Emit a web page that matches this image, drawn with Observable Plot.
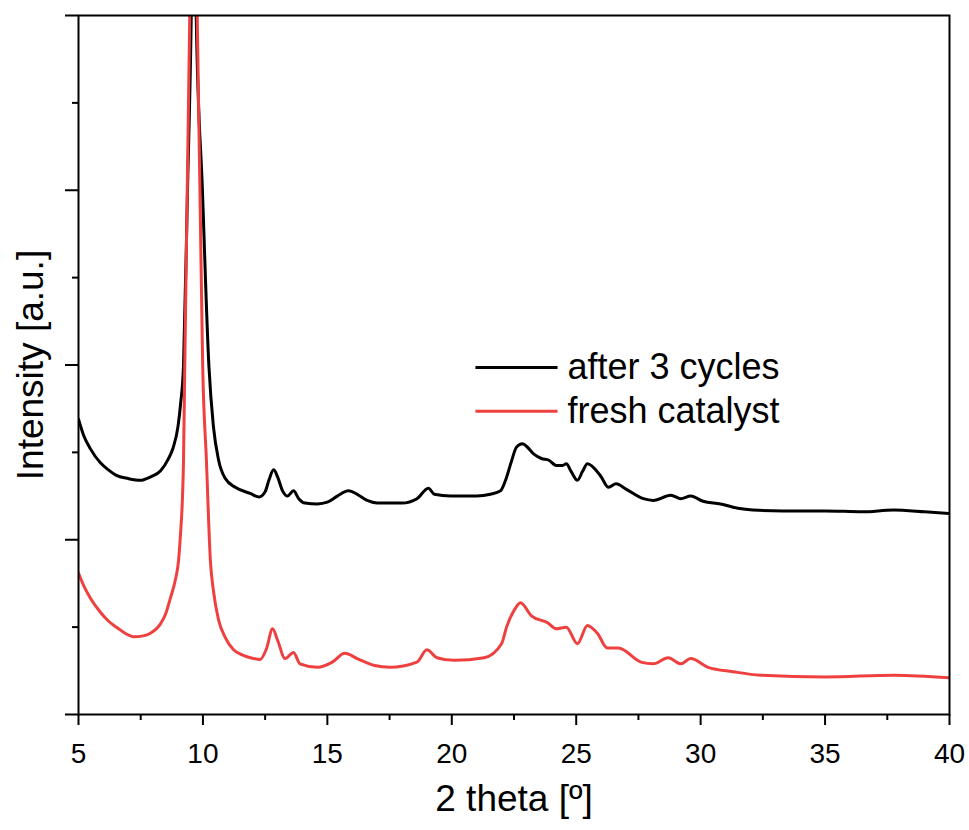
<!DOCTYPE html>
<html>
<head>
<meta charset="utf-8">
<script src="https://cdn.jsdelivr.net/npm/d3@7"></script>
<script src="https://cdn.jsdelivr.net/npm/@observablehq/plot@0.6"></script>
<style>
  html, body { margin: 0; padding: 0; background: #fff; }
  #chart { width: 969px; height: 830px; }
</style>
</head>
<body>
<div id="chart"></div>
<script>
// 2 theta [deg] vs intensity [a.u.]
const after3 = [
  [5.0, 3.38], [5.2, 3.2], [5.48, 3.04], [5.88, 2.88], [6.2, 2.8], [6.5, 2.74], [7.0, 2.70], [7.49, 2.68],
  [7.9, 2.72], [8.3, 2.79], [8.6, 2.92], [8.8, 3.05], [9.0, 3.3], [9.1, 3.55], [9.22, 4.0],
  [9.38, 6.0], [9.53, 8.0], [9.63, 10.5], [9.73, 8.0], [9.98, 6.0], [10.24, 3.99], [10.42, 3.3],
  [10.63, 2.91], [10.9, 2.7], [11.3, 2.6], [11.9, 2.53], [12.25, 2.49], [12.5, 2.55], [12.65, 2.68],
  [12.84, 2.80], [13.0, 2.72], [13.2, 2.56], [13.4, 2.50], [13.64, 2.56], [13.85, 2.47], [14.1, 2.42],
  [14.6, 2.41], [15.0, 2.43], [15.4, 2.50], [15.85, 2.56], [16.2, 2.52], [16.6, 2.45], [17.0, 2.42],
  [17.4, 2.42], [18.0, 2.42], [18.6, 2.47], [19.06, 2.59], [19.3, 2.52], [19.95, 2.50], [20.5, 2.50],
  [21.0, 2.50], [21.55, 2.52], [21.96, 2.56], [22.16, 2.68], [22.4, 2.90], [22.6, 3.06], [22.84, 3.10],
  [23.0, 3.07], [23.3, 2.98], [23.6, 2.93], [23.9, 2.91], [24.2, 2.85], [24.45, 2.85], [24.6, 2.87],
  [24.8, 2.78], [25.05, 2.68], [25.25, 2.78], [25.45, 2.87], [25.98, 2.73], [26.3, 2.60], [26.6, 2.64],
  [27.0, 2.58], [27.7, 2.47], [28.1, 2.45], [28.8, 2.51], [29.2, 2.47], [29.6, 2.50], [30.1, 2.44],
  [30.8, 2.41], [31.5, 2.36], [32.1, 2.34], [33.3, 2.33], [35.0, 2.33], [36.5, 2.32], [37.75, 2.34],
  [39.0, 2.32], [40.0, 2.30]
];
const fresh = [
  [5.0, 1.62], [5.2, 1.48], [5.48, 1.33], [5.88, 1.17], [6.2, 1.07], [6.57, 0.99], [7.0, 0.91], [7.21, 0.89],
  [7.6, 0.9], [7.89, 0.93], [8.3, 1.04], [8.5, 1.15], [8.7, 1.34], [8.9, 1.55], [9.02, 1.76], [9.1, 2.07],
  [9.18, 2.5], [9.22, 2.91], [9.27, 3.99], [9.37, 6.0], [9.47, 8.0], [9.62, 11.5], [9.77, 8.0], [9.88, 6.0],
  [9.99, 3.99], [10.14, 2.91], [10.3, 1.76], [10.42, 1.42], [10.63, 1.08], [10.9, 0.88], [11.23, 0.74],
  [11.6, 0.68], [11.91, 0.65], [12.3, 0.63], [12.55, 0.75], [12.8, 0.98], [13.0, 0.85], [13.3, 0.64],
  [13.64, 0.71], [13.9, 0.58], [14.6, 0.54], [15.2, 0.6], [15.7, 0.70], [16.2, 0.64], [16.9, 0.56],
  [17.5, 0.54], [18.6, 0.60], [19.0, 0.74], [19.4, 0.65], [20.1, 0.62], [21.3, 0.65], [22.0, 0.81],
  [22.2, 1.0], [22.5, 1.19], [22.76, 1.28], [23.2, 1.13], [23.85, 1.05], [24.2, 0.98], [24.6, 1.0],
  [25.05, 0.81], [25.45, 1.02], [25.85, 0.93], [26.25, 0.76], [26.7, 0.76], [27.6, 0.60], [28.1, 0.58],
  [28.7, 0.65], [29.2, 0.58], [29.6, 0.64], [30.3, 0.54], [31.3, 0.49], [32.4, 0.45], [35.0, 0.43],
  [37.8, 0.45], [40.0, 0.42]
];
const seriesNames = ["after 3 cycles", "fresh catalyst"];
const seriesColors = ["#000000", "#ef4040"];
const xMajorTicks = [5, 10, 15, 20, 25, 30, 35, 40];
const xMinorTicks = [7.5, 12.5, 17.5, 22.5, 27.5, 32.5, 37.5];
const yMajorTicks = [0, 2, 4, 6, 8];
const yMinorTicks = [1, 3, 5, 7];
const xLabel = "2 theta [º]";
const yLabel = "Intensity [a.u.]";

const font = "'Liberation Sans', Arial, sans-serif";
const legendRows = seriesNames.map((name, i) => ({name, color: seriesColors[i], y: 3.97 - i * 0.5}));

const plot = Plot.plot({
  width: 969,
  height: 830,
  marginLeft: 78,
  marginRight: 20,
  marginTop: 15,
  marginBottom: 116,
  style: {fontFamily: font, background: "white", color: "black"},
  x: {domain: [5, 40]},
  y: {domain: [0, 8]},
  marks: [
    Plot.line(after3, {x: d => d[0], y: d => d[1], stroke: seriesColors[0], strokeWidth: 3, curve: "monotone-x", clip: true}),
    Plot.line(fresh, {x: d => d[0], y: d => d[1], stroke: seriesColors[1], strokeWidth: 3, curve: "monotone-x", clip: true}),
    Plot.frame({stroke: "black", strokeWidth: 2}),
    Plot.axisX(xMajorTicks, {tickSize: 11, tickPadding: 18, fontSize: 28, strokeWidth: 2, label: null, tickFormat: d => String(d)}),
    Plot.axisX(xMinorTicks, {tickSize: 6, strokeWidth: 2, label: null, tickFormat: () => ""}),
    Plot.axisY(yMajorTicks, {tickSize: 13, strokeWidth: 2, label: null, tickFormat: () => ""}),
    Plot.axisY(yMinorTicks, {tickSize: 6, strokeWidth: 2, label: null, tickFormat: () => ""}),
    Plot.text([xLabel], {frameAnchor: "bottom", dy: 96, fontSize: 37, fill: "black"}),
    Plot.text([yLabel], {frameAnchor: "left", dx: -47, rotate: -90, textAnchor: "middle", fontSize: 37, fill: "black"}),
    Plot.link(legendRows, {x1: 20.95, x2: 24.25, y1: d => d.y, y2: d => d.y, stroke: d => d.color, strokeWidth: 3}),
    Plot.text(legendRows, {x: 24.65, y: d => d.y, text: d => d.name, textAnchor: "start", fontSize: 36, fill: "black"})
  ]
});
document.getElementById("chart").appendChild(plot);
</script>
</body>
</html>
